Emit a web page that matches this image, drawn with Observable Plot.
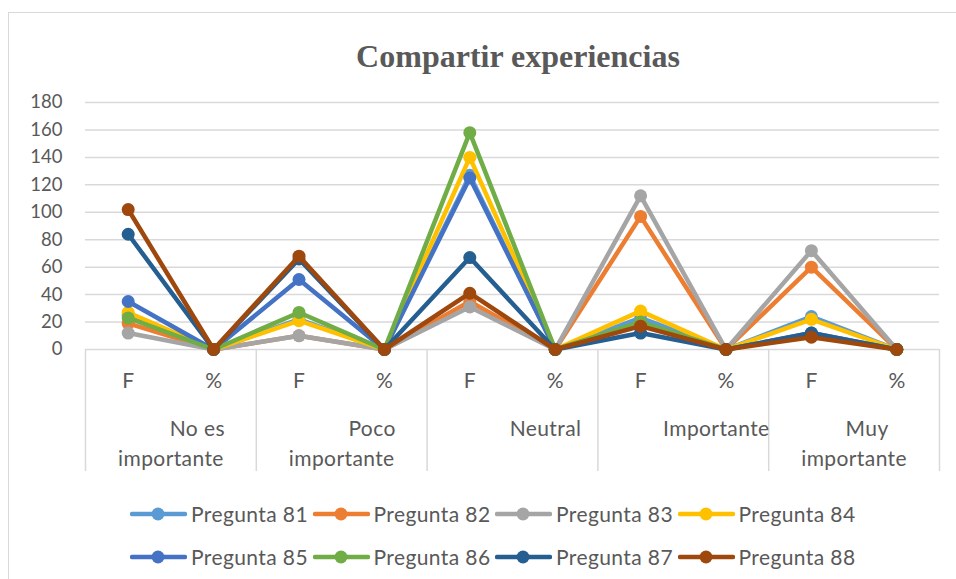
<!DOCTYPE html>
<html><head><meta charset="utf-8">
<script src="https://cdn.jsdelivr.net/npm/d3@7"></script>
<script src="https://cdn.jsdelivr.net/npm/@observablehq/plot@0.6"></script>
<style>
body{margin:0;background:#fff;}
#wrap{position:relative;width:956px;height:579px;overflow:hidden;font-family:Lato,"Open Sans",sans-serif;color:#595959;}
#frame{position:absolute;left:8px;top:12px;width:980px;height:620px;border:1.5px solid #d9d9d9;box-sizing:border-box;}
#title{position:absolute;top:36px;left:518px;transform:translateX(-50%);white-space:nowrap;font-family:"Liberation Serif","Times New Roman",serif;font-weight:bold;font-size:32px;line-height:40px;color:#595959;}
#chart{position:absolute;left:0;top:0;}
#legend{position:absolute;left:130px;top:492px;}
.row{display:flex;height:43px;align-items:center;}
.item{width:182.5px;display:flex;align-items:center;font-size:21px;letter-spacing:0.4px;color:#595959;white-space:nowrap;}
.item svg{margin-right:4px;flex:none;}
.lbl{letter-spacing:0.4px;}
</style></head>
<body><div id="wrap"><div id="frame"></div><div id="chart"></div><div id="title"></div><div id="legend"></div></div>
<script>
const titleText = "Compartir experiencias";
const categories = ["No es importante", "Poco importante", "Neutral", "Importante", "Muy importante"];
const subLabels = ["F", "%"];
const yTicks = [0, 20, 40, 60, 80, 100, 120, 140, 160, 180];
const series = ["Pregunta 81","Pregunta 82","Pregunta 83","Pregunta 84","Pregunta 85","Pregunta 86","Pregunta 87","Pregunta 88"];
const p81 = [25, 0, 22, 0, 127, 0, 23, 0, 24, 0];
const p82 = [19, 0, 10, 0, 35, 0, 97, 0, 60, 0];
const p83 = [12, 0, 10, 0, 31, 0, 112, 0, 72, 0];
const p84 = [27, 0, 21, 0, 140, 0, 28, 0, 22, 0];
const p85 = [35, 0, 51, 0, 125, 0, 18, 0, 12, 0];
const p86 = [23, 0, 27, 0, 158, 0, 20, 0, 11, 0];
const p87 = [84, 0, 66, 0, 67, 0, 12, 0, 12, 0];
const p88 = [102, 0, 68, 0, 41, 0, 17, 0, 9, 0];
const values = [p81, p82, p83, p84, p85, p86, p87, p88];

const palette = ["#5B9BD5","#ED7D31","#A5A5A5","#FFC000","#4472C4","#70AD47","#255E91","#9E480E"];
const grid = "#d9d9d9";

document.getElementById("title").textContent = titleText;

const rows = [];
series.forEach((s, k) => values[k].forEach((v, i) => rows.push({s, i, v})));
const positions = d3.range(categories.length * subLabels.length);
const dividers = d3.range(categories.length + 1).map(c => c * 2 - 0.5);
// wrapped category labels: first word(s) on line 1, last word on line 2
const catRows = [];
categories.forEach((c, j) => {
  const x = j * 2 + 0.5;
  const k = c.lastIndexOf(" ");
  if (k < 0) catRows.push({x, text: c, line: 0, wrapped: false, idx: j});
  else {
    catRows.push({x, text: c.slice(0, k), line: 0, wrapped: true, idx: j});
    catRows.push({x, text: c.slice(k + 1), line: 1, wrapped: true, idx: j});
  }
});
const fs = 21;
const textOpts = {x: "x", text: "text", frameAnchor: "bottom", fontSize: fs, fill: "#595959", className: "lbl"};

const marks = [
  Plot.gridY(yTicks, {stroke: grid, strokeOpacity: 1, strokeWidth: 1.5}),
  Plot.axisY(yTicks, {tickSize: 0, tickPadding: 23, fontSize: 18.5}),
  Plot.axisX(positions, {tickSize: 0, tickPadding: 24, fontSize: fs, tickFormat: i => subLabels[i % subLabels.length]}),
  Plot.axisX(dividers, {tickSize: 122, stroke: grid, strokeWidth: 1.5, tickFormat: () => ""}),
  // second lines (centered on the category)
  Plot.text(catRows.filter(d => d.line === 1), {...textOpts, dy: 116}),
  // first lines of wrapped labels in the first two categories: right-aligned to the second line
  Plot.text(catRows.filter(d => d.line === 0 && d.wrapped && d.idx < 2), {...textOpts, dy: 86, textAnchor: "end", dx: 54}),
  // first line of the last wrapped label: centered, slightly right
  Plot.text(catRows.filter(d => d.line === 0 && d.wrapped && d.idx >= 2), {...textOpts, dy: 86, dx: 13}),
  // single-line labels
  Plot.text(catRows.filter(d => !d.wrapped), {...textOpts, dy: 86, dx: 33})
];
series.forEach(s => {
  const d = rows.filter(r => r.s === s);
  marks.push(Plot.line(d, {x: "i", y: "v", stroke: "s", strokeWidth: 4.5}));
  marks.push(Plot.dot(d, {x: "i", y: "v", fill: "s", r: 6.5}));
});

const chart = Plot.plot({
  width: 956, height: 579,
  marginLeft: 85, marginRight: 17, marginTop: 102, marginBottom: 230,
  style: {color: "#595959", fontFamily: "Lato, 'Open Sans', sans-serif", background: "transparent"},
  x: {domain: [-0.5, 9.5], label: null},
  y: {domain: [0, 180], label: null},
  color: {domain: series, range: palette},
  marks
});
document.getElementById("chart").appendChild(chart);

const legend = document.getElementById("legend");
[series.slice(0, 4), series.slice(4)].forEach(group => {
  const row = document.createElement("div");
  row.className = "row";
  group.forEach(s => {
    const c = palette[series.indexOf(s)];
    const it = document.createElement("div");
    it.className = "item";
    it.innerHTML = `<svg width="57" height="16"><line x1="2" y1="8" x2="55" y2="8" stroke="${c}" stroke-width="4.5" stroke-linecap="round"/><circle cx="28" cy="8" r="6.5" fill="${c}"/></svg><span>${s}</span>`;
    row.appendChild(it);
  });
  legend.appendChild(row);
});
</script></body></html>
